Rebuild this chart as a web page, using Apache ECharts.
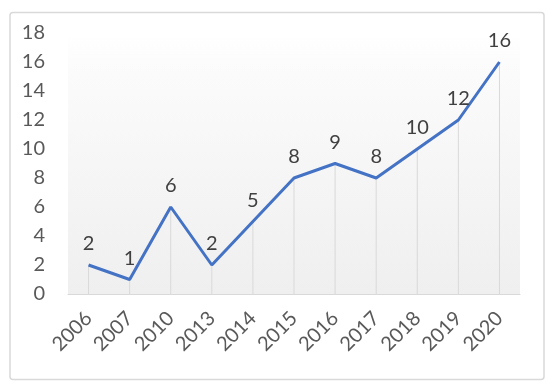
<!DOCTYPE html>
<html><head><meta charset="utf-8">
<script src="https://cdn.jsdelivr.net/npm/echarts@6/dist/echarts.min.js"></script>
<style>html,body{margin:0;padding:0;background:#fff}#c{width:550px;height:386px}</style>
</head><body><div id="c"></div>
<script>
const categories = ['2006','2007','2010','2013','2014','2015','2016','2017','2018','2019','2020'];
const values = [2,1,6,2,5,8,9,8,10,12,16];
const yTicks = [0,2,4,6,8,10,12,14,16,18];

const chart = echarts.init(document.getElementById('c'), null, {renderer:'canvas'});
const font = 'Lato';
chart.setOption({
  animation:false,
  backgroundColor:'#fff',
  graphic:[{type:'rect', left:7.5, top:10, shape:{width:534, height:367, r:3},
    style:{fill:'none', stroke:'#d9d9d9', lineWidth:1.5}, z:-1}],
  grid:{left:68, right:30, top:33, bottom:92, show:true, borderWidth:0,
    backgroundColor:{type:'linear', x:0, y:0, x2:0, y2:1,
      colorStops:[{offset:0,color:'#ffffff'},{offset:0.15,color:'#fbfbfb'},{offset:1,color:'#efefef'}]}},
  xAxis:{type:'category', data:categories, boundaryGap:true,
    axisLine:{show:true, lineStyle:{color:'#d9d9d9', width:1}},
    axisTick:{show:false},
    axisLabel:{rotate:45, margin:21, color:'#595959', fontFamily:font, fontSize:20}},
  yAxis:{type:'value', min:yTicks[0], max:yTicks[yTicks.length-1], interval:2,
    axisLine:{show:false}, axisTick:{show:false}, splitLine:{show:false},
    axisLabel:{margin:23, color:'#595959', fontFamily:font, fontSize:20}},
  series:[
    {type:'bar', data:values, barWidth:1, silent:true, z:1,
      itemStyle:{color:'#d9d9d9'}},
    {type:'line', data:values, symbol:'circle', symbolSize:0, showSymbol:true, z:3,
      itemStyle:{color:'#4472C4'},
      lineStyle:{color:'#4472C4', width:3},
      label:{show:true, position:'top', distance:11, color:'#404040', fontFamily:font, fontSize:20}}
  ]
});
</script></body></html>
